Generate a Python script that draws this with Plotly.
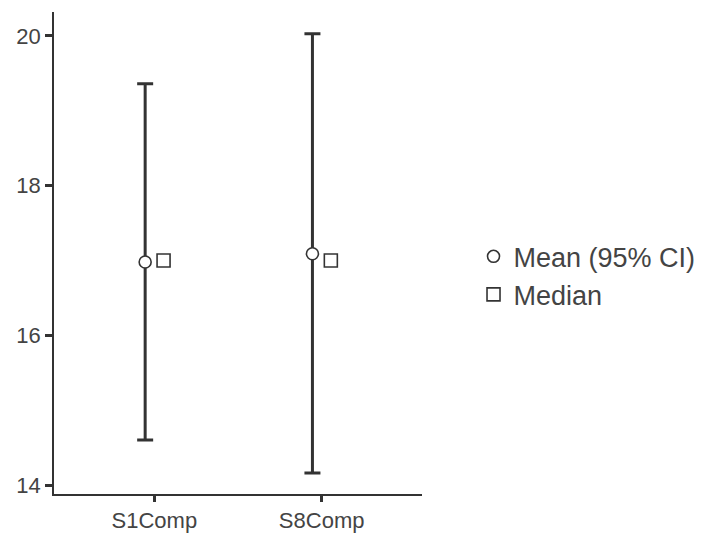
import numpy as np
import plotly.graph_objects as go

categories = ["S1Comp", "S8Comp"]
mean_vals = [16.98, 17.09]
ci_lower = [14.60, 14.16]
ci_upper = [19.36, 20.03]
median_vals = [17.0, 17.0]
y_ticks = [14, 16, 18, 20]

pos = np.arange(1, len(categories) + 1)
dodge = 0.055
mean = np.array(mean_vals)
err_plus = np.array(ci_upper) - mean
err_minus = mean - np.array(ci_lower)

dark = "#333333"
font_family = "Liberation Sans, Arial, sans-serif"

fig = go.Figure()
fig.add_trace(go.Scatter(
    x=pos - dodge, y=mean, mode="markers", name="Mean (95% CI)",
    marker=dict(symbol="circle", size=12, color="white", line=dict(color=dark, width=1.6)),
    error_y=dict(type="data", symmetric=False, array=err_plus, arrayminus=err_minus,
                 color=dark, thickness=3, width=8),
))
fig.add_trace(go.Scatter(
    x=pos + dodge, y=median_vals, mode="markers", name="Median",
    marker=dict(symbol="square", size=13, color="white", line=dict(color=dark, width=1.6)),
))

# page body has an 8px default margin; the figure is sized to fit the window
fig.update_layout(
    width=696, height=533,
    margin=dict(l=46, r=278, t=4, b=47),
    plot_bgcolor="white", paper_bgcolor="white",
    font=dict(family=font_family, color="#444444", size=22),
    hovermode=False,
    showlegend=True,
    legend=dict(x=1.14, y=0.543, xanchor="left", yanchor="top",
                font=dict(size=27, color="#444444"), bgcolor="rgba(0,0,0,0)",
                tracegroupgap=0, itemwidth=30),
)
fig.update_xaxes(
    range=[0.4, 2.6], tickvals=pos, ticktext=categories, automargin=False,
    showline=True, linecolor=dark, linewidth=1.5, mirror=False,
    ticks="outside", ticklen=6, tickwidth=2.5, tickcolor=dark,
    showgrid=False, zeroline=False, tickfont=dict(size=22),
)
fig.update_yaxes(
    range=[13.88, 20.32], tickvals=y_ticks, ticktext=[str(t) for t in y_ticks],
    automargin=False,
    showline=True, linecolor=dark, linewidth=1.5,
    ticks="outside", ticklen=7, tickwidth=2.5, tickcolor=dark,
    showgrid=False, zeroline=False, tickfont=dict(size=22),
)

fig.write_html("out.html", config={"displayModeBar": False})
